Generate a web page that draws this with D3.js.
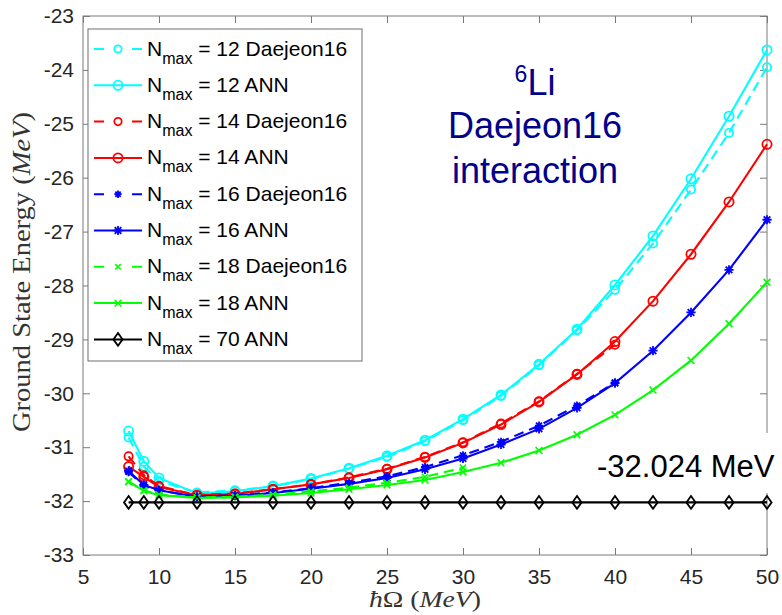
<!DOCTYPE html>
<html>
<head>
<meta charset="utf-8">
<script src="https://cdn.jsdelivr.net/npm/d3@7"></script>
<style>
  html, body { margin: 0; padding: 0; background: #fff; }
  svg { display: block; }
</style>
</head>
<body>
<svg id="chart" width="782" height="615"></svg>
<script>
// ---------------- DATA ----------------
const hbarOmega = [8, 9, 10, 12.5, 15, 17.5, 20, 22.5, 25, 27.5, 30, 32.5, 35, 37.5, 40, 42.5, 45, 47.5, 50];

const nmax12Daejeon = [-30.82, -31.36, -31.63, -31.84, -31.80, -31.73, -31.59, -31.40, -31.18, -30.89, -30.50, -30.05, -29.48, -28.83, -28.08, -27.22, -26.22, -25.17, -23.95];
const nmax12ANN     = [-30.70, -31.26, -31.57, -31.86, -31.82, -31.72, -31.58, -31.39, -31.16, -30.87, -30.48, -30.03, -29.46, -28.81, -27.99, -27.08, -26.02, -24.86, -23.63];

const nmax14Daejeon = [-31.17, -31.52, -31.72, -31.89, -31.86, -31.78, -31.69, -31.56, -31.40, -31.18, -30.91, -30.56, -30.15, -29.64, -29.10];
const nmax14ANN     = [-31.36, -31.55, -31.74, -31.89, -31.87, -31.78, -31.69, -31.57, -31.41, -31.19, -30.92, -30.58, -30.16, -29.65, -29.04, -28.29, -27.42, -26.45, -25.38];

const nmax16Daejeon = [-31.46, -31.72, -31.80, -31.92, -31.89, -31.84, -31.76, -31.66, -31.54, -31.37, -31.15, -30.90, -30.60, -30.23, -29.80];
const nmax16ANN     = [-31.44, -31.70, -31.80, -31.92, -31.90, -31.85, -31.77, -31.68, -31.57, -31.41, -31.21, -30.95, -30.66, -30.27, -29.81, -29.21, -28.50, -27.71, -26.78];

const nmax18Daejeon = [-31.64, -31.80, -31.88, -31.93, -31.92, -31.88, -31.82, -31.75, -31.66, -31.55, -31.38];
const nmax18ANN     = [-31.64, -31.81, -31.89, -31.94, -31.93, -31.90, -31.85, -31.78, -31.70, -31.61, -31.46, -31.29, -31.06, -30.77, -30.40, -29.94, -29.39, -28.71, -27.94];

const nmax70ANN     = [-32.024, -32.024, -32.024, -32.024, -32.024, -32.024, -32.024, -32.024, -32.024, -32.024, -32.024, -32.024, -32.024, -32.024, -32.024, -32.024, -32.024, -32.024, -32.024];

const legendNmax  = ["12", "12", "14", "14", "16", "16", "18", "18", "70"];
const legendInter = ["Daejeon16", "ANN", "Daejeon16", "ANN", "Daejeon16", "ANN", "Daejeon16", "ANN", "ANN"];

const xTicks = [5, 10, 15, 20, 25, 30, 35, 40, 45, 50];
const yTicks = [-33, -32, -31, -30, -29, -28, -27, -26, -25, -24, -23];

const extrapolatedLabel = "-32.024 MeV";
const annotationLines = ["Daejeon16", "interaction"];

// ---------------- STYLE ----------------
const seriesDefs = [
  { values: nmax12Daejeon, color: "#00FFFF", dashed: true,  marker: "circle" },
  { values: nmax12ANN,     color: "#00FFFF", dashed: false, marker: "circle" },
  { values: nmax14Daejeon, color: "#FF0000", dashed: true,  marker: "circle" },
  { values: nmax14ANN,     color: "#FF0000", dashed: false, marker: "circle" },
  { values: nmax16Daejeon, color: "#0000FF", dashed: true,  marker: "star" },
  { values: nmax16ANN,     color: "#0000FF", dashed: false, marker: "star" },
  { values: nmax18Daejeon, color: "#00FF00", dashed: true,  marker: "x" },
  { values: nmax18ANN,     color: "#00FF00", dashed: false, marker: "x" },
  { values: nmax70ANN,     color: "#000000", dashed: false, marker: "diamond" }
];

const FONT = "'Liberation Sans', Arial, Helvetica, sans-serif";
const SERIF = "'Liberation Serif', 'DejaVu Serif', serif";

const svg = d3.select("#chart");
const L = 83, R = 767, T = 16, B = 555;

const x = d3.scaleLinear().domain([5, 50]).range([L, R]);
const y = d3.scaleLinear().domain([-33, -23]).range([B, T]);

// ---------------- AXES ----------------
const axisColor = "#7a7a7a";
const tickColor = "#262626";
const plainFmt = d => String(d);

const gBottom = svg.append("g").attr("transform", `translate(0,${B})`)
  .call(d3.axisBottom(x).tickValues(xTicks).tickFormat(plainFmt).tickSizeInner(-7).tickSizeOuter(0).tickPadding(14));
const gTop = svg.append("g").attr("transform", `translate(0,${T})`)
  .call(d3.axisTop(x).tickValues(xTicks).tickFormat("").tickSizeInner(-7).tickSizeOuter(0));
const gLeft = svg.append("g").attr("transform", `translate(${L},0)`)
  .call(d3.axisLeft(y).tickValues(yTicks).tickFormat(plainFmt).tickSizeInner(-7).tickSizeOuter(0).tickPadding(9));
const gRight = svg.append("g").attr("transform", `translate(${R},0)`)
  .call(d3.axisRight(y).tickValues(yTicks).tickFormat("").tickSizeInner(-7).tickSizeOuter(0));

[gBottom, gTop, gLeft, gRight].forEach(g => {
  g.select(".domain").remove();
  g.selectAll(".tick line").attr("stroke", axisColor).attr("stroke-width", 1);
  g.selectAll(".tick text").attr("fill", tickColor).style("font-family", FONT).style("font-size", "21px");
});

// box
svg.append("rect").attr("x", L).attr("y", T).attr("width", R - L).attr("height", B - T)
  .attr("fill", "none").attr("stroke", axisColor).attr("stroke-width", 1);

// axis labels
const xl = svg.append("text").attr("x", (L + R) / 2).attr("y", 607)
  .attr("text-anchor", "middle").attr("fill", "#333")
  .attr("textLength", 112).attr("lengthAdjust", "spacingAndGlyphs")
  .style("font-family", SERIF).style("font-size", "24px");
xl.append("tspan").style("font-style", "italic").text("ħ");
xl.append("tspan").text("Ω (");
xl.append("tspan").style("font-style", "italic").text("MeV");
xl.append("tspan").text(")");

const yl = svg.append("text").attr("transform", `translate(30,272) rotate(-90)`)
  .attr("text-anchor", "middle").attr("fill", "#333")
  .attr("textLength", 320).attr("lengthAdjust", "spacingAndGlyphs")
  .style("font-family", SERIF).style("font-size", "25px");
yl.append("tspan").text("Ground State Energy (");
yl.append("tspan").style("font-style", "italic").text("MeV");
yl.append("tspan").text(")");

// ---------------- MARKERS ----------------
function drawMarker(g, type, color, cx, cy, scale) {
  const s = scale || 1;
  if (type === "circle") {
    g.append("circle").attr("cx", cx).attr("cy", cy).attr("r", 4.6 * s)
      .attr("fill", "none").attr("stroke", color).attr("stroke-width", 1.8);
  } else if (type === "star") {
    const r = 4.6 * s, a = r * 0.72;
    g.append("path").attr("transform", `translate(${cx},${cy})`)
      .attr("d", `M${-r},0H${r}M0,${-r}V${r}M${-a},${-a}L${a},${a}M${-a},${a}L${a},${-a}`)
      .attr("fill", "none").attr("stroke", color).attr("stroke-width", 1.8);
  } else if (type === "x") {
    const a = 3.4 * s;
    g.append("path").attr("transform", `translate(${cx},${cy})`)
      .attr("d", `M${-a},${-a}L${a},${a}M${-a},${a}L${a},${-a}`)
      .attr("fill", "none").attr("stroke", color).attr("stroke-width", 1.6);
  } else if (type === "diamond") {
    const w = 4.6 * s, h = 6.4 * s;
    g.append("path").attr("transform", `translate(${cx},${cy})`)
      .attr("d", `M0,${-h}L${w},0L0,${h}L${-w},0Z`)
      .attr("fill", "none").attr("stroke", color).attr("stroke-width", 1.8);
  }
}

// ---------------- SERIES ----------------
const line = d3.line().x(d => x(d[0])).y(d => y(d[1]));
const plot = svg.append("g");
seriesDefs.forEach(s => {
  const pts = s.values.map((v, i) => [hbarOmega[i], v]);
  const g = plot.append("g");
  g.append("path").datum(pts).attr("d", line)
    .attr("fill", "none").attr("stroke", s.color).attr("stroke-width", 2.1)
    .attr("stroke-dasharray", s.dashed ? "10,6" : null);
  pts.forEach(p => drawMarker(g, s.marker, s.color, x(p[0]), y(p[1]), s.dashed ? 0.9 : 1));
});

// ---------------- EXTRAPOLATED LABEL ----------------
svg.append("rect").attr("x", 592).attr("y", 433).attr("width", 190).attr("height", 60).attr("fill", "#fff");
svg.append("text").attr("x", 597).attr("y", 477)
  .attr("fill", "#000").style("font-family", FONT).style("font-size", "31px")
  .text(extrapolatedLabel);

// ---------------- ANNOTATION ----------------
const annColor = "#00008C";
const t1 = svg.append("text").attr("x", 535).attr("y", 95).attr("text-anchor", "middle")
  .attr("fill", annColor).style("font-family", FONT).style("font-size", "36px");
t1.append("tspan").attr("dy", -13).style("font-size", "23px").text("6");
t1.append("tspan").attr("dy", 13).text("Li");
annotationLines.forEach((t, i) => {
  svg.append("text").attr("x", 535).attr("y", 138 + i * 45).attr("text-anchor", "middle")
    .attr("fill", annColor).style("font-family", FONT).style("font-size", "36px").text(t);
});

// ---------------- LEGEND ----------------
const lg = svg.append("g");
lg.append("rect").attr("x", 88).attr("y", 29).attr("width", 274).attr("height", 332)
  .attr("fill", "#fff").attr("stroke", "#6e6e6e").attr("stroke-width", 1);
seriesDefs.forEach((s, i) => {
  const cy = 49 + i * 36.3;
  lg.append("line").attr("x1", 94).attr("x2", 142).attr("y1", cy).attr("y2", cy)
    .attr("stroke", s.color).attr("stroke-width", 2)
    .attr("stroke-dasharray", s.dashed ? "10,28" : null);
  drawMarker(lg, s.marker, s.color, 118, cy, s.dashed ? 0.8 : 1);
  const t = lg.append("text").attr("x", 147).attr("y", cy + 6.5)
    .attr("fill", "#000").style("font-family", FONT).style("font-size", "21px");
  t.append("tspan").text("N");
  t.append("tspan").attr("dy", 8).style("font-size", "16px").text("max");
  t.append("tspan").attr("dy", -8).text(` = ${legendNmax[i]} ${legendInter[i]}`);
});
</script>
</body>
</html>
